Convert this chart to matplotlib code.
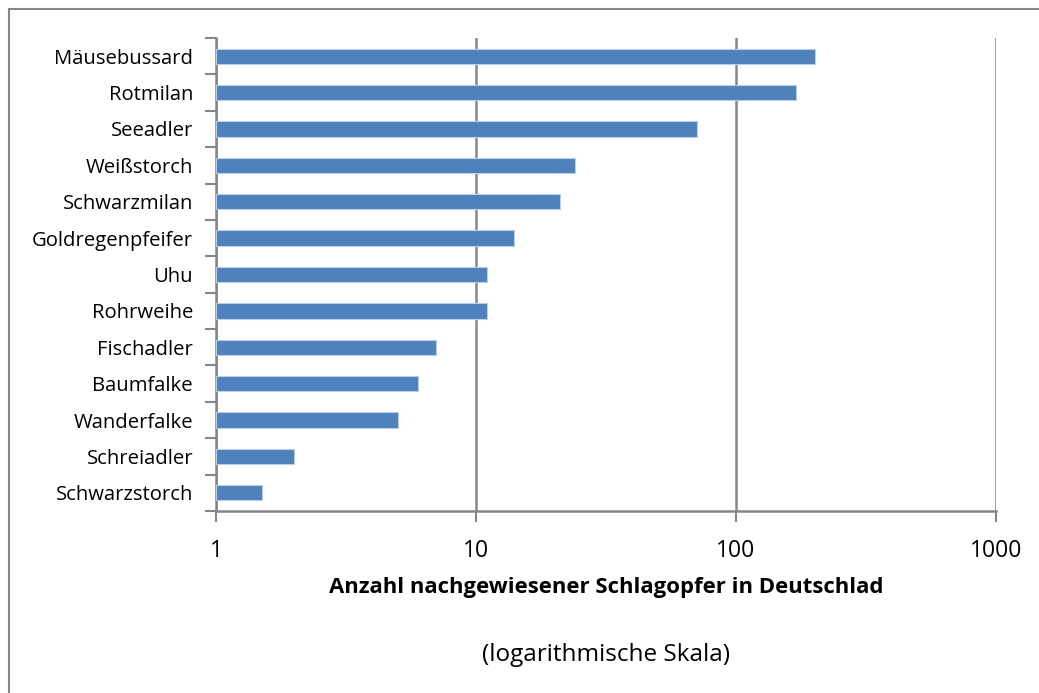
import numpy as np
import matplotlib.pyplot as plt
from matplotlib.patches import Rectangle

# Data (top to bottom)
species = ['Mäusebussard', 'Rotmilan', 'Seeadler', 'Weißstorch', 'Schwarzmilan',
           'Goldregenpfeifer', 'Uhu', 'Rohrweihe', 'Fischadler', 'Baumfalke',
           'Wanderfalke', 'Schreiadler', 'Schwarzstorch']
victims = [202, 170, 71, 24, 21, 14, 11, 11, 7, 6, 5, 2, 1.5]
xticks = [1, 10, 100, 1000]

plt.rcParams['font.family'] = ['Open Sans', 'DejaVu Sans']

W, H = 1039, 693
fig = plt.figure(figsize=(W / 100, H / 100), dpi=100)

# plot area in pixel coordinates
left, right, top, bottom = 216, 996, 38, 511
ax = fig.add_axes([left / W, 1 - bottom / H, (right - left) / W, (bottom - top) / H])

gray = '#868686'
y = np.arange(len(species))
# log axis starts at 1, so bars run from 1 to the value
ax.barh(y, np.array(victims) - 1, left=1, height=0.42, color='#4F81BD',
        edgecolor='#B9CDE5', linewidth=0.8, zorder=3)
ax.set_xscale('log')
ax.set_xlim(1, 1000)
ax.set_ylim(len(species) - 0.5, -0.5)

ax.set_xticks(xticks)
ax.set_xticklabels([str(t) for t in xticks], fontsize=16.5)
ax.xaxis.set_minor_locator(plt.NullLocator())
ax.set_yticks(y)
ax.set_yticklabels(species, fontsize=14.6)
ax.set_yticks(np.arange(len(species) + 1) - 0.5, minor=True)
ax.tick_params(axis='y', which='major', length=0, pad=16.5)
ax.tick_params(axis='y', which='minor', length=8, width=1.5, color=gray)
ax.tick_params(axis='x', which='major', length=8, width=1.5, color=gray, pad=12)

ax.grid(axis='x', which='major', color=gray, linewidth=1.8, zorder=0)
for s in ['top', 'right']:
    ax.spines[s].set_visible(False)
for s in ['left', 'bottom']:
    ax.spines[s].set_color(gray)
    ax.spines[s].set_linewidth(1.8)

fig.text((left + right) / 2 / W, 1 - 587 / H,
         'Anzahl nachgewiesener Schlagopfer in Deutschlad',
         ha='center', va='center', fontsize=15.9, fontweight='bold')
fig.text((left + right) / 2 / W, 1 - 655 / H, '(logarithmische Skala)',
         ha='center', va='center', fontsize=17.5)

# outer chart border (only left and top visible)
fig.patches.append(Rectangle((9 / W, -0.1), 1.2, 1 - 9 / H + 0.1,
                             transform=fig.transFigure, fill=False,
                             edgecolor=gray, linewidth=1.5))

fig.savefig('out.png', dpi=100)
